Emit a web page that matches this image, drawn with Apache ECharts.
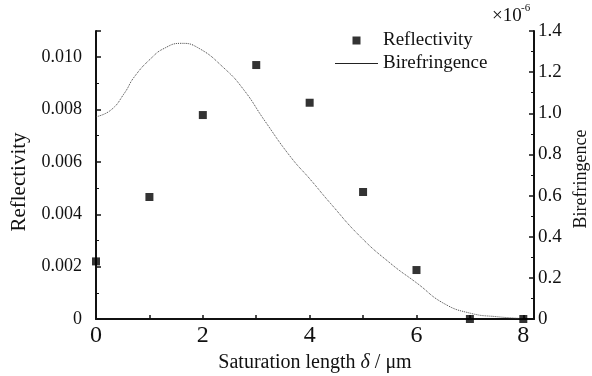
<!DOCTYPE html>
<html>
<head>
<meta charset="utf-8">
<script src="https://cdn.jsdelivr.net/npm/echarts@6/dist/echarts.min.js"></script>
<style>
  html, body { margin: 0; padding: 0; background: #fff; }
  #chart { width: 592px; height: 376px; }
</style>
</head>
<body>
<div id="chart"></div>
<script>
// reflectivity (left axis)
var lengthX = [0, 1, 2, 3, 4, 5, 6, 7, 8];
var reflectivity = [0.0022, 0.00466, 0.00779, 0.0097, 0.00826, 0.00485, 0.00187, 0, 0];
// birefringence curve, in units of 1e-6 (right axis)
var curveX = [0, 0.28, 0.53, 0.72, 1.03, 1.28, 1.59, 1.90, 2.40, 2.77, 3.15, 3.64, 4.02, 4.39, 4.95, 5.51, 6.01, 6.51, 7.01, 7.51, 8.0];
var birefringence = [0.983, 1.016, 1.097, 1.178, 1.267, 1.316, 1.340, 1.320, 1.219, 1.113, 0.967, 0.789, 0.676, 0.562, 0.400, 0.271, 0.174, 0.076, 0.028, 0.011, 0.002];

var font = 'Liberation Serif';
var ink = '#111';
var chart = echarts.init(document.getElementById('chart'));
option = {
  animation: false,
  textStyle: { fontFamily: font, color: ink },
  grid: { left: 96, right: 58, top: 31, bottom: 57, outerBoundsMode: 'none', containLabel: false },
  legend: {
    orient: 'vertical',
    left: 330,
    top: 26,
    itemWidth: 43,
    itemHeight: 8,
    itemGap: 4,
    textStyle: { fontFamily: font, fontSize: 19, color: ink },
    data: [
      { name: 'Reflectivity', icon: 'path://M0,0h10v10h-10z', itemStyle: { color: '#000' } },
      { name: 'Birefringence', icon: 'path://M0,0h43v1h-43z', itemStyle: { color: '#222' } }
    ]
  },
  xAxis: {
    type: 'value',
    min: 0,
    max: 8.2,
    interval: 1,
    name: 'Saturation length {i|δ} / μm',
    nameLocation: 'middle',
    nameGap: 32,
    nameTextStyle: {
      fontFamily: font, fontSize: 20, color: ink,
      rich: { i: { fontFamily: font, fontStyle: 'italic', fontSize: 20, color: ink } }
    },
    axisLine: { lineStyle: { color: ink, width: 2 } },
    axisTick: { inside: true, length: 4, lineStyle: { color: ink, width: 1.5 } },
    axisLabel: {
      fontFamily: font, fontSize: 24, color: ink, margin: 5,
      formatter: function (v) { return (v % 2 === 0) ? String(v) : ''; }
    },
    splitLine: { show: false }
  },
  yAxis: [{
    type: 'value',
    min: 0,
    max: 0.011,
    interval: 0.002,
    name: 'Reflectivity',
    nameLocation: 'middle',
    nameGap: 66,
    nameTextStyle: { fontFamily: font, fontSize: 21, color: ink, padding: [0, 14, 0, 0] },
    axisLine: { show: true, lineStyle: { color: ink, width: 2 } },
    axisTick: { inside: true, length: 5, lineStyle: { color: ink, width: 1.5 } },
    minorTick: { show: true, splitNumber: 2, length: 3, lineStyle: { color: ink } },
    axisLabel: {
      fontFamily: font, fontSize: 18, color: ink, margin: 14,
      formatter: function (v) {
        if (v === 0) return '0';
        if (Math.abs(v - 0.011) < 1e-9) return '';
        return v.toFixed(3);
      }
    },
    splitLine: { show: false }
  }, {
    type: 'value',
    position: 'right',
    min: 0,
    max: 1.4,
    interval: 0.2,
    name: 'Birefringence',
    nameLocation: 'middle',
    nameGap: 38,
    nameTextStyle: { fontFamily: font, fontSize: 18, color: ink, padding: [0, 8, 0, 0] },
    axisLine: { show: true, lineStyle: { color: ink, width: 2 } },
    axisTick: { inside: true, length: 5, lineStyle: { color: ink, width: 1.5 } },
    minorTick: { show: true, splitNumber: 2, length: 3, lineStyle: { color: ink } },
    axisLabel: {
      fontFamily: font, fontSize: 19, color: ink, margin: 4,
      formatter: function (v) { return v === 0 ? '0' : v.toFixed(1); }
    },
    splitLine: { show: false }
  }],
  graphic: [{
    type: 'text',
    left: 492,
    top: 7,
    style: { text: '×10', fontFamily: font, fontSize: 19, fill: ink }
  }, {
    type: 'text',
    left: 521,
    top: 3,
    style: { text: '-6', fontFamily: font, fontSize: 11, fill: ink }
  }],
  series: [{
    name: 'Reflectivity',
    type: 'scatter',
    symbol: 'rect',
    symbolSize: 8,
    itemStyle: { color: '#000' },
    data: lengthX.map(function (x, i) { return [x, reflectivity[i]]; }),
    z: 3
  }, {
    name: 'Birefringence',
    type: 'line',
    yAxisIndex: 1,
    smooth: true,
    showSymbol: false,
    symbol: 'none',
    lineStyle: { color: '#444', width: 1, type: [1, 1] },
    itemStyle: { color: '#222' },
    data: curveX.map(function (x, i) { return [x, birefringence[i]]; })
  }]
};
chart.setOption(option);
</script>
</body>
</html>
